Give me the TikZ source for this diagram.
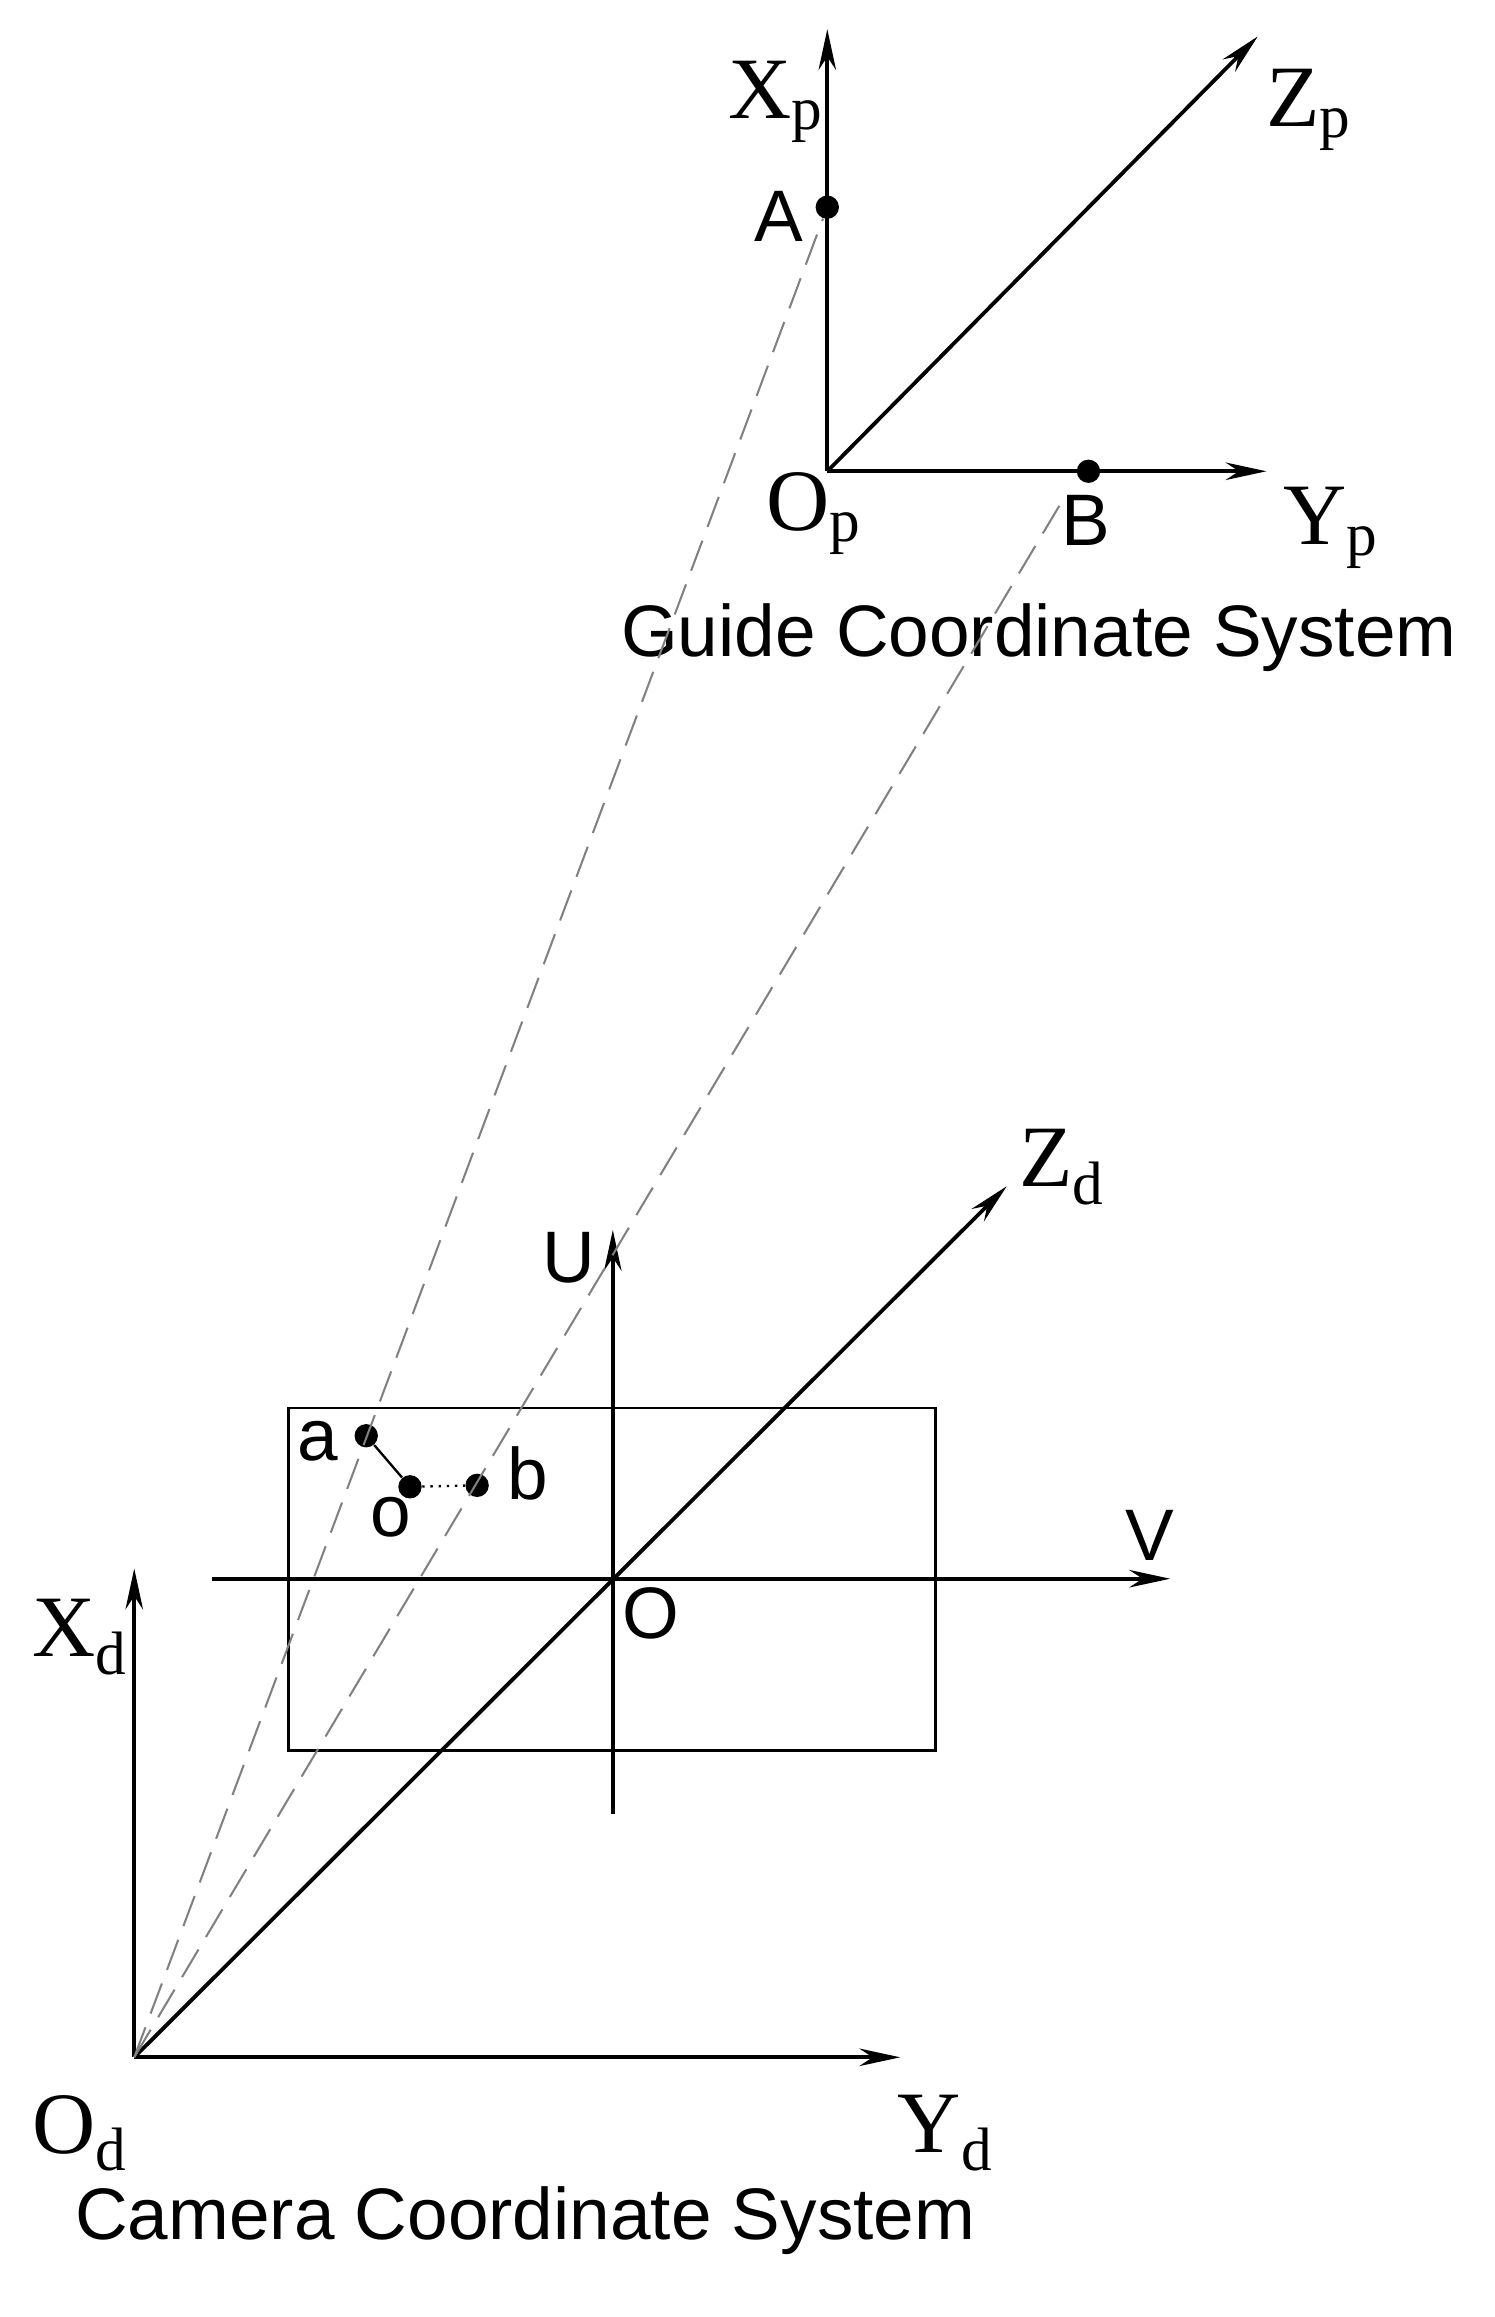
\documentclass[tikz,border=0pt]{standalone}
\usepackage{fontspec}
\setmainfont{Liberation Serif}
\newfontfamily\sfx{Liberation Sans}
\usetikzlibrary{arrows.meta}
\begin{document}
\begin{tikzpicture}[x=0.5pt,y=-0.5pt,
  ax/.style={line width=1.3pt,-{Stealth[length=14pt,width=6pt]}},
  dsh/.style={line width=0.7pt,gray,dash pattern=on 11pt off 5pt},
  dotp/.style={circle,fill=black,inner sep=0pt,minimum size=8pt},
  sl/.style={font=\fontsize{30}{33}\selectfont},
  tl/.style={font=\sfx\fontsize{25}{28}\selectfont}]
\useasboundingbox (0,0) rectangle (1024,1588);
% guide system
\coordinate (Op) at (567,323);
\coordinate (Xp) at (567,20);
\coordinate (Zp) at (862,25);
\coordinate (Yp) at (868,323);
\node[dotp] (A) at (567,142) {};
\node[dotp] (B) at (746,323) {};
\draw[ax] (Op) -- (Xp);
\draw[ax] (Op) -- (Zp);
\draw[ax] (Op) -- (Yp);
\node[sl] (lXp) at (532,70) {X$_{\mathrm{p}}$};
\node[sl] (lZp) at (897,75) {Z$_{\mathrm{p}}$};
\node[sl] (lOp) at (558,352) {O$_{\mathrm{p}}$};
\node[sl] (lYp) at (912,362) {Y$_{\mathrm{p}}$};
\node[tl] (lA) at (534,148) {A};
\node[tl] (lB) at (744,357) {B};
\node[tl] (gcs) at (712,437) {Guide Coordinate System};
% camera system
\coordinate (Od) at (92,1410);
\coordinate (Xd) at (92,1075);
\coordinate (Yd) at (617,1410);
\coordinate (Zd) at (690,813);
\draw[line width=1pt] (198,965) rectangle (641,1200);
\coordinate (Ub) at (420,1243);
\coordinate (Ut) at (420,843);
\coordinate (Vl) at (145,1082);
\coordinate (Vr) at (802,1082);
\draw[ax] (Ub) -- (Ut);
\draw[ax] (Vl) -- (Vr);
\draw[ax] (Od) -- (Xd);
\draw[ax] (Od) -- (Yd);
\draw[ax] (Od) -- (Zd);
\node[dotp] (a) at (251,984) {};
\node[dotp] (o) at (281,1019) {};
\node[dotp] (b) at (327,1018) {};
\draw[line width=0.8pt] (a) -- (o);
\draw[line width=0.8pt,dotted] (o) -- (b);
\coordinate (Bend) at (727,345);
\draw[dsh] (Od) -- (A);
\draw[dsh] (Od) -- (Bend);
\node[sl] (lXd) at (55,1122) {X$_{\mathrm{d}}$};
\node[sl] (lYd) at (648,1462) {Y$_{\mathrm{d}}$};
\node[sl] (lOd) at (55,1462) {O$_{\mathrm{d}}$};
\node[sl] (lZd) at (728,800) {Z$_{\mathrm{d}}$};
\node[tl] (lU) at (390,862) {U};
\node[tl] (lV) at (788,1052) {V};
\node[tl] (lO) at (446,1106) {O};
\node[tl] (la) at (218,988) {a};
\node[tl] (lo) at (268,1040) {o};
\node[tl] (lb) at (362,1010) {b};
\node[tl] (ccs) at (360,1522) {Camera Coordinate System};
\end{tikzpicture}
\end{document}
